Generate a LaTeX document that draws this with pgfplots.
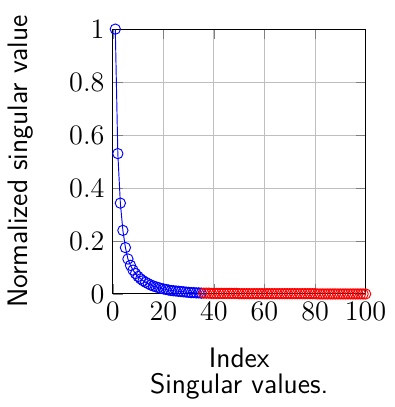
\documentclass[border=0pt]{standalone}
\usepackage{pgfplots}
\pgfplotsset{compat=1.18}
\begin{document}
\begin{tikzpicture}
\begin{axis}[
  scale only axis,
  width=107.7pt, height=112.8pt,
  xmin=0, xmax=100, ymin=0, ymax=1,
  xtick={0,20,40,60,80,100},
  ytick={0,0.2,0.4,0.6,0.8,1},
  grid=major,
  tick label style={font=\large},
  label style={font=\large\sffamily},
  xlabel={Index},
  ylabel={Normalized singular value},
  xlabel shift=4.7pt,
  ylabel shift=8.5pt,
  clip=false,
]
% leading singular values, joined by a line
\addplot[blue, mark=o, mark size=2.2pt] coordinates {
(1,1.000) (2,0.530) (3,0.343) (4,0.240) (5,0.175) (6,0.132) (7,0.108)
(8,0.090) (9,0.077) (10,0.066) (11,0.057) (12,0.050) (13,0.044) (14,0.039)
(15,0.034) (16,0.030) (17,0.027) (18,0.024) (19,0.021) (20,0.019) (21,0.017)
(22,0.015) (23,0.013) (24,0.012) (25,0.011) (26,0.010) (27,0.009) (28,0.008)
(29,0.007) (30,0.006) (31,0.005) (32,0.005) (33,0.004) (34,0.004) (35,0.003)
};
% trailing singular values, marks only
\addplot[red, only marks, mark=o, mark size=2.2pt] coordinates {
(36,0.003) (37,0.003) (38,0.003) (39,0.002) (40,0.002) (41,0.002) (42,0.002)
(43,0.002) (44,0.002) (45,0.002) (46,0.002) (47,0.002) (48,0.002) (49,0.002)
(50,0.001) (51,0.001) (52,0.001) (53,0.001) (54,0.001) (55,0.001) (56,0.001)
(57,0.001) (58,0.001) (59,0.001) (60,0.001) (61,0.001) (62,0.001) (63,0.001)
(64,0.001) (65,0.001) (66,0.001) (67,0.001) (68,0.001) (69,0.001) (70,0.001)
(71,0.001) (72,0.001) (73,0.001) (74,0.001) (75,0.001) (76,0.001) (77,0.001)
(78,0.001) (79,0.001) (80,0.001) (81,0.000) (82,0.000) (83,0.000) (84,0.000)
(85,0.000) (86,0.000) (87,0.000) (88,0.000) (89,0.000) (90,0.000) (91,0.000)
(92,0.000) (93,0.000) (94,0.000) (95,0.000) (96,0.000) (97,0.000) (98,0.000)
(99,0.000) (100,0.000)
};
\end{axis}
\node[font=\large\sffamily] at (53.85pt,-39.3pt) {Singular values.};
% a little room above the plot
\path (0pt,125.2pt);
\end{tikzpicture}
\end{document}
